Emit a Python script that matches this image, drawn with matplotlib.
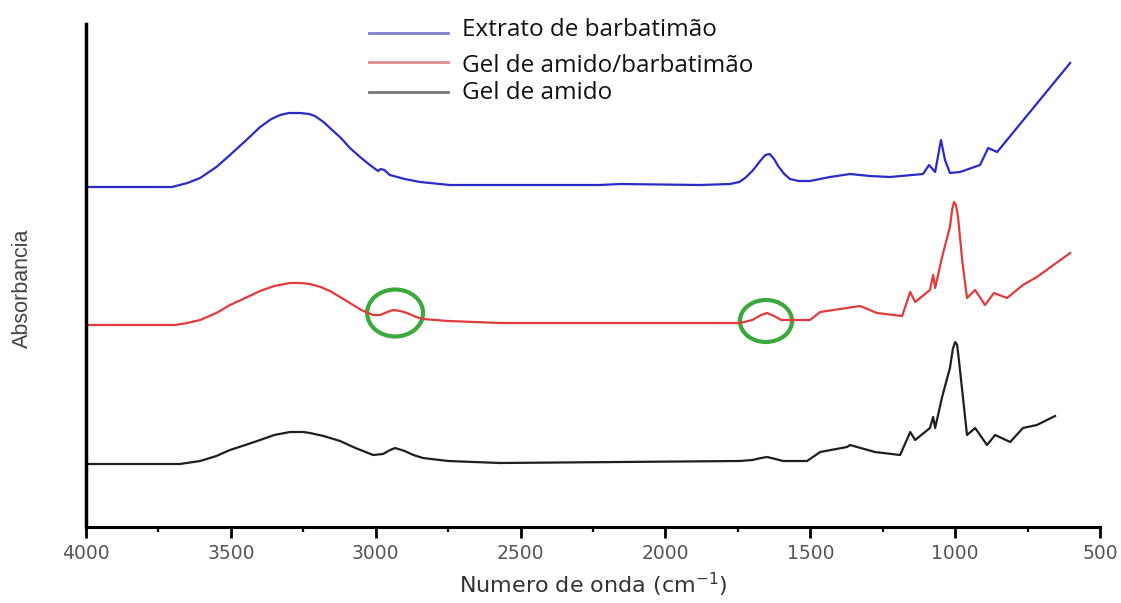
import matplotlib
matplotlib.use("Agg")
import matplotlib.pyplot as plt
from matplotlib.lines import Line2D
from matplotlib.patches import Ellipse
from matplotlib.ticker import MultipleLocator

# ---- data (arbitrary absorbance units, offset spectra) ----
wn_extrato = [4000, 3703, 3650, 3606, 3550, 3503, 3450, 3399, 3360, 3330, 3300, 3261, 3230, 3210,
              3180, 3158, 3120, 3089, 3050, 3020, 2992, 2983, 2970, 2951, 2900, 2847, 2744, 2226,
              2157, 1880, 1777, 1745, 1725, 1700, 1673, 1655, 1640, 1625, 1611, 1590, 1570, 1540,
              1501, 1432, 1363, 1295, 1225, 1111, 1090, 1069, 1049, 1035, 1018, 983, 914, 886,
              855, 603]
abs_extrato = [340, 340, 344, 349, 360, 372, 386, 400, 408, 412, 414, 414, 413, 411,
               405, 399, 389, 379, 369, 362, 356, 358, 357, 352, 348, 345, 342, 342,
               343, 342, 343, 345, 349, 356, 366, 372, 373, 368, 361, 353, 348, 346,
               346, 350, 353, 351, 350, 353, 362, 355, 387, 367, 354, 355, 362, 379,
               375, 464]

wn_gel_barb = [4000, 3693, 3650, 3606, 3550, 3503, 3450, 3399, 3350, 3296, 3260, 3227, 3190, 3158,
               3123, 3089, 3050, 3009, 2985, 2960, 2940, 2915, 2892, 2860, 2837, 2750, 2571, 1743,
               1700, 1670, 1649, 1625, 1600, 1501, 1466, 1328, 1270, 1183, 1155, 1138, 1087, 1076,
               1069, 1045, 1018, 1010, 1004, 997, 990, 975, 959, 931, 897, 866, 821, 766, 718, 603]
abs_gel_barb = [202, 202, 204, 207, 214, 222, 229, 236, 241, 244, 244, 243, 240, 236,
                230, 224, 217, 212, 212, 215, 217, 216, 214, 210, 208, 206, 204, 204,
                207, 212, 214, 211, 207, 207, 215, 221, 214, 211, 235, 225, 237, 252,
                239, 270, 300, 318, 325, 322, 310, 265, 229, 237, 222, 234, 229, 242, 250, 274]

wn_gel = [4000, 3676, 3606, 3550, 3503, 3450, 3399, 3350, 3296, 3250, 3227, 3180, 3123, 3070,
          3009, 2975, 2950, 2933, 2900, 2870, 2837, 2750, 2571, 1743, 1700, 1670, 1649, 1620,
          1594, 1511, 1466, 1373, 1363, 1277, 1190, 1155, 1138, 1087, 1076, 1069, 1045, 1018,
          1008, 1000, 993, 987, 959, 931, 890, 862, 810, 766, 718, 655]
abs_gel = [63, 63, 66, 71, 77, 82, 87, 92, 95, 95, 94, 91, 86, 79,
           72, 73, 77, 79, 76, 72, 69, 66, 64, 66, 67, 69, 70, 68,
           66, 66, 75, 80, 82, 75, 72, 95, 87, 99, 110, 99, 130, 159,
           178, 185, 182, 167, 92, 99, 82, 92, 85, 99, 102, 111]

labels = ["Extrato de barbatimão", "Gel de amido/barbatimão", "Gel de amido"]
line_colors = ["#2a2ac8", "#e23a3a", "#1e1e1e"]
legend_colors = ["#8080d0", "#e08890", "#777777"]

# highlighted bands (center wavenumber, center absorbance, width, height)
circle_wn = [2933, 1653]
circle_abs = [214, 206]
circle_w = [193, 180]
circle_h = [47, 42]

W, H = 1121, 603
fig = plt.figure(figsize=(W / 100, H / 100), dpi=100)
ax = fig.add_axes([86 / W, (H - 527) / H, 1014 / W, 503 / H])

ax.plot(wn_extrato, abs_extrato, color=line_colors[0], lw=1.6)
ax.plot(wn_gel_barb, abs_gel_barb, color=line_colors[1], lw=1.6)
ax.plot(wn_gel, abs_gel, color=line_colors[2], lw=1.6)

for cx, cy, w, h in zip(circle_wn, circle_abs, circle_w, circle_h):
    ax.add_patch(Ellipse((cx, cy), w, h, fill=False, edgecolor="#3aa83a", lw=3))

ax.set_xlim(4000, 500)
ax.set_ylim(0, 503)
ax.spines["top"].set_visible(False)
ax.spines["right"].set_visible(False)
ax.spines["left"].set_linewidth(2.5)
ax.spines["bottom"].set_linewidth(2.2)
ax.set_yticks([])
ax.xaxis.set_major_locator(MultipleLocator(500))
ax.xaxis.set_minor_locator(MultipleLocator(250))
ax.tick_params(axis="x", which="major", direction="out", length=8, width=2,
               labelsize=13.5, labelcolor="#555555", pad=4)
ax.tick_params(axis="x", which="minor", direction="out", length=3.8, width=1.6)
for t in ax.get_xticklabels():
    t.set_family("DejaVu Sans")

ax.set_xlabel("Numero de onda (cm$^{-1}$)", fontsize=16, color="#333333",
              family="DejaVu Sans")
ax.xaxis.set_label_coords((593 - 86) / 1014, (527 - 593) / 503)
ax.xaxis.label.set_va("baseline")
ax.set_ylabel("Absorbancia", fontsize=15.5, color="#444444", family="Liberation Sans")
ax.yaxis.set_label_coords((22 - 86) / 1014, (527 - 288) / 503)
ax.yaxis.label.set_va("center")

# legend (drawn manually to follow the reference's uneven row layout)
legend_line_y = [33, 62, 92]
legend_text_base = [36, 72, 99]
for lab, col, ly, ty in zip(labels, legend_colors, legend_line_y, legend_text_base):
    fig.add_artist(Line2D([369 / W, 448 / W], [1 - ly / H, 1 - ly / H],
                          color=col, lw=2, transform=fig.transFigure))
    fig.text(462 / W, 1 - ty / H, lab, fontsize=17.5, family="Open Sans",
             va="baseline", ha="left", color="#111111")

fig.savefig("out.png", dpi=100, facecolor="white")
